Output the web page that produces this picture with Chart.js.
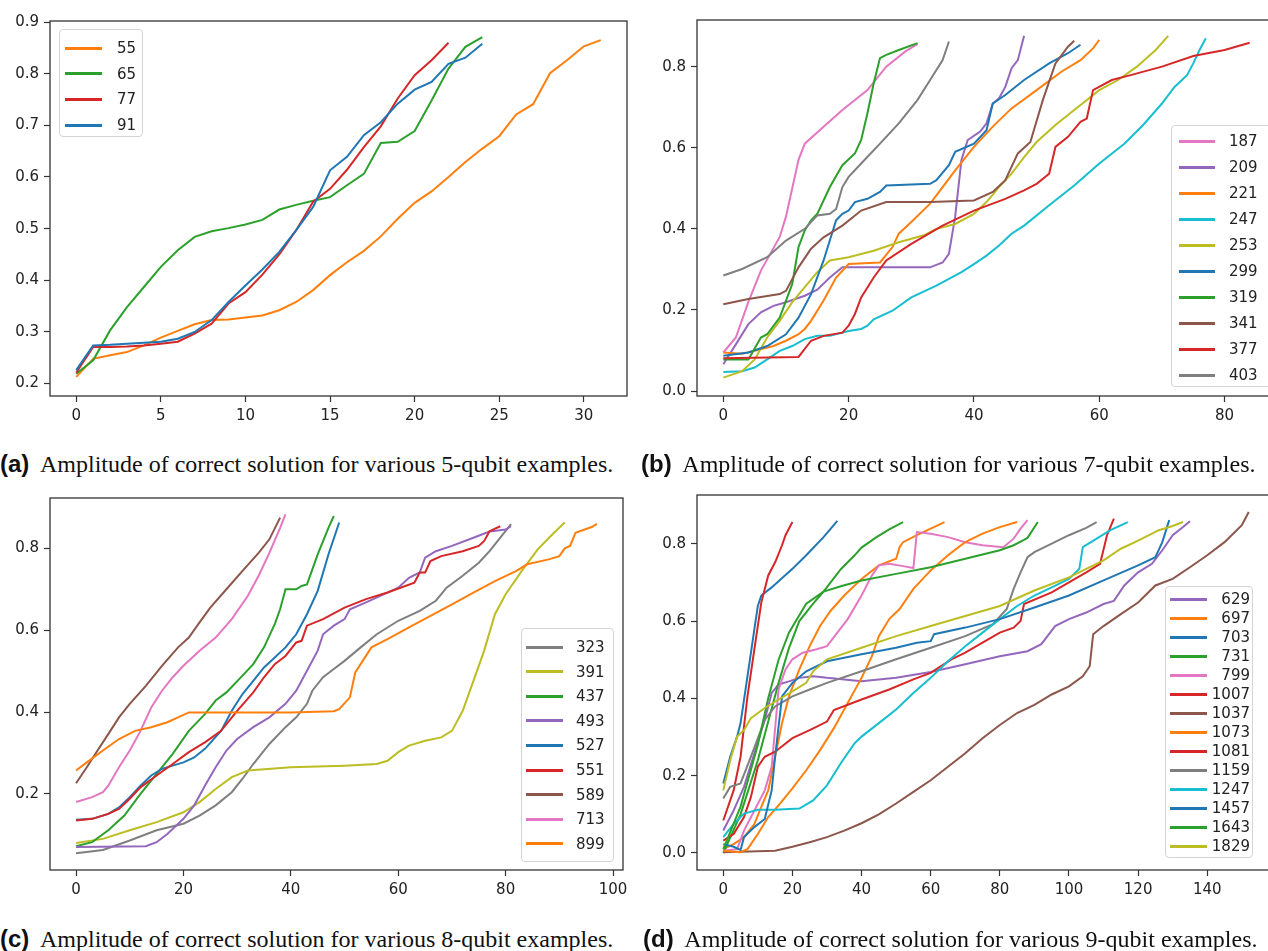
<!DOCTYPE html>
<html>
<head>
<meta charset="utf-8">
<script src="https://cdn.jsdelivr.net/npm/chart.js@4.4.1/dist/chart.umd.min.js"></script>
<style>
  html, body { margin: 0; padding: 0; background: #fff; overflow: hidden; }
  #page { position: relative; width: 1268px; height: 951px; overflow: hidden; background: #fff; }
  canvas { position: absolute; }
  .legend { position: absolute; background: rgba(255,255,255,0.8); border: 1px solid #d4d4d4; border-radius: 4px; box-sizing: border-box; z-index: 2; }
  .legend .h { position: absolute; height: 3px; }
  .legend .t { position: absolute; font: 15px "DejaVu Sans", sans-serif; color: #222; line-height: 20px; white-space: pre; }
  .cap { position: absolute; font: 24px "Liberation Serif", "Times New Roman", serif; color: #111; line-height: 24px; white-space: nowrap; }
  .cap b { font: bold 24px "Liberation Sans", Arial, sans-serif; margin-right: 6px; }
</style>
</head>
<body>
<div id="page">
  <canvas id="chartA" width="640" height="440" style="left:0;top:0"></canvas>
  <canvas id="chartB" width="660" height="440" style="left:634px;top:0"></canvas>
  <canvas id="chartC" width="640" height="440" style="left:0;top:480px"></canvas>
  <canvas id="chartD" width="660" height="440" style="left:634px;top:480px"></canvas>
  <div id="legA" class="legend"></div>
  <div id="legB" class="legend"></div>
  <div id="legC" class="legend"></div>
  <div id="legD" class="legend"></div>
  <div class="cap" style="left:0;top:450px"><b>(a)</b> Amplitude of correct solution for various 5-qubit examples.</div>
  <div class="cap" style="left:641px;top:450px"><b>(b)</b> Amplitude of correct solution for various 7-qubit examples.</div>
  <div class="cap" style="left:0;top:925px"><b>(c)</b> Amplitude of correct solution for various 8-qubit examples.</div>
  <div class="cap" style="left:643px;top:925px"><b>(d)</b> Amplitude of correct solution for various 9-qubit examples.</div>
</div>
<script>
// Colores de matplotlib (tab10)
const BLUE = '#1f77b4', ORANGE = '#ff7f0e', GREEN = '#2ca02c', RED = '#d62728', PURPLE = '#9467bd';
const BROWN = '#8c564b', PINK = '#e377c2', GRAY = '#7f7f7f', OLIVE = '#bcbd22', CYAN = '#17becf';

// ---------- (a) 5 qubits: un valor por iteración (x = 0, 1, 2, ...) ----------
const labelsA = ['55', '65', '77', '91'];
const colorsA = [ORANGE, GREEN, RED, BLUE];
const a55 = [0.213,0.248,0.255,0.261,0.274,0.289,0.302,0.315,0.323,0.324,0.328,0.332,0.342,0.358,0.381,0.41,0.435,0.457,0.485,0.519,0.55,0.572,0.6,0.629,0.655,0.679,0.721,0.741,0.801,0.826,0.853,0.865];
const a65 = [0.219,0.245,0.303,0.348,0.387,0.426,0.458,0.484,0.495,0.501,0.508,0.517,0.537,0.546,0.554,0.561,0.584,0.606,0.666,0.668,0.689,0.748,0.81,0.852,0.871];
const a77 = [0.221,0.271,0.271,0.272,0.274,0.277,0.281,0.297,0.316,0.355,0.377,0.411,0.45,0.497,0.552,0.577,0.614,0.658,0.698,0.752,0.797,0.826,0.86];
const a91 = [0.226,0.274,0.275,0.277,0.279,0.281,0.287,0.3,0.323,0.358,0.39,0.421,0.455,0.497,0.542,0.613,0.639,0.681,0.706,0.742,0.769,0.784,0.819,0.831,0.858];
const ticksXA = [0, 5, 10, 15, 20, 25, 30];
const ticksYA = [0.2, 0.3, 0.4, 0.5, 0.6, 0.7, 0.8, 0.9];

// ---------- (b) 7 qubits: pares [iteración, amplitud] ----------
const labelsB = ['187', '209', '221', '247', '253', '299', '319', '341', '377', '403'];
const colorsB = [PINK, PURPLE, ORANGE, CYAN, OLIVE, BLUE, GREEN, BROWN, RED, GRAY];
const b187 = [[0,0.095],[2,0.132],[4,0.22],[6,0.297],[9,0.38],[10,0.43],[11,0.5],[12,0.57],[13,0.61],[16,0.652],[19,0.693],[23,0.742],[26,0.8],[29,0.837],[31,0.856]];
const b209 = [[0,0.066],[2,0.115],[4,0.165],[6,0.194],[8,0.21],[10,0.219],[13,0.235],[15,0.25],[17,0.28],[19,0.305],[25,0.305],[33,0.305],[35,0.317],[36,0.338],[37,0.43],[38,0.57],[39,0.619],[41,0.64],[42,0.66],[43,0.709],[44,0.722],[45,0.75],[46,0.796],[47,0.816],[48,0.876]];
const b221 = [[0,0.095],[3,0.092],[5,0.099],[8,0.111],[10,0.124],[12,0.14],[13,0.153],[14,0.173],[16,0.223],[18,0.28],[20,0.313],[25,0.317],[27,0.355],[28,0.388],[30,0.417],[33,0.462],[35,0.503],[37,0.544],[40,0.602],[43,0.652],[46,0.697],[50,0.742],[54,0.788],[57,0.816],[59,0.845],[60,0.866]];
const b247 = [[0,0.047],[3,0.049],[5,0.058],[7,0.078],[9,0.099],[11,0.111],[13,0.128],[15,0.136],[17,0.136],[20,0.148],[22,0.153],[23,0.161],[24,0.177],[27,0.198],[30,0.231],[34,0.26],[38,0.293],[40,0.313],[42,0.334],[44,0.359],[46,0.388],[48,0.408],[52,0.458],[56,0.507],[60,0.561],[64,0.61],[67,0.656],[70,0.709],[72,0.75],[74,0.779],[75,0.808],[76,0.841],[77,0.87]];
const b253 = [[0,0.033],[3,0.049],[5,0.078],[7,0.132],[9,0.173],[11,0.219],[13,0.256],[15,0.293],[17,0.322],[20,0.33],[24,0.346],[28,0.367],[32,0.384],[34,0.4],[37,0.412],[40,0.437],[42,0.466],[44,0.503],[46,0.536],[48,0.577],[50,0.614],[53,0.656],[56,0.693],[60,0.742],[63,0.767],[66,0.8],[69,0.841],[71,0.876]];
const b299 = [[0,0.087],[4,0.095],[7,0.111],[10,0.14],[12,0.181],[14,0.239],[16,0.322],[18,0.421],[19,0.437],[20,0.445],[21,0.466],[23,0.474],[25,0.491],[26,0.507],[33,0.511],[34,0.52],[36,0.557],[37,0.59],[40,0.61],[42,0.643],[43,0.709],[45,0.73],[48,0.767],[52,0.808],[55,0.833],[57,0.854]];
const b319 = [[0,0.078],[4,0.078],[6,0.132],[7,0.14],[9,0.181],[11,0.264],[12,0.355],[13,0.396],[14,0.421],[15,0.437],[17,0.503],[19,0.557],[21,0.586],[22,0.619],[23,0.685],[24,0.759],[25,0.821],[26,0.829],[28,0.841],[31,0.858]];
const b341 = [[0,0.214],[4,0.227],[9,0.239],[10,0.247],[12,0.305],[14,0.351],[16,0.379],[19,0.408],[22,0.445],[26,0.466],[33,0.466],[40,0.47],[43,0.491],[45,0.52],[47,0.586],[49,0.614],[51,0.718],[53,0.808],[55,0.849],[56,0.864]];
const b377 = [[0,0.081],[12,0.084],[14,0.124],[16,0.136],[19,0.144],[20,0.161],[21,0.19],[22,0.231],[24,0.28],[26,0.322],[30,0.363],[35,0.408],[40,0.445],[45,0.474],[48,0.495],[50,0.511],[52,0.536],[53,0.602],[55,0.627],[57,0.664],[58,0.672],[59,0.742],[62,0.767],[65,0.779],[70,0.8],[75,0.826],[80,0.841],[84,0.859]];
const b403 = [[0,0.285],[3,0.301],[7,0.33],[10,0.371],[13,0.4],[15,0.433],[17,0.437],[18,0.449],[19,0.503],[20,0.528],[22,0.561],[25,0.61],[28,0.66],[31,0.718],[33,0.767],[35,0.816],[36,0.862]];
const ticksXB = [0, 20, 40, 60, 80];
const ticksYB = [0, 0.2, 0.4, 0.6, 0.8];

// ---------- (c) 8 qubits ----------
const labelsC = ['323', '391', '437', '493', '527', '551', '589', '713', '899'];
const colorsC = [GRAY, OLIVE, GREEN, PURPLE, BLUE, RED, BROWN, PINK, ORANGE];
const c323 = [[0,0.055],[5,0.063],[10,0.086],[15,0.111],[20,0.127],[23,0.147],[26,0.172],[29,0.204],[31,0.237],[33,0.273],[36,0.322],[39,0.363],[41,0.387],[43,0.42],[44,0.452],[46,0.485],[48,0.505],[50,0.525],[53,0.558],[56,0.59],[60,0.623],[64,0.647],[67,0.672],[69,0.704],[72,0.733],[75,0.765],[77,0.793],[79,0.826],[81,0.859]];
const c391 = [[0,0.08],[5,0.09],[10,0.111],[15,0.131],[20,0.155],[23,0.18],[26,0.212],[29,0.241],[32,0.257],[40,0.265],[50,0.269],[56,0.273],[58,0.281],[60,0.302],[62,0.318],[65,0.33],[68,0.338],[70,0.354],[72,0.403],[74,0.476],[76,0.55],[78,0.639],[80,0.688],[83,0.745],[86,0.798],[89,0.838],[91,0.863]];
const c437 = [[0,0.072],[3,0.082],[6,0.111],[9,0.147],[12,0.2],[15,0.249],[18,0.298],[21,0.354],[24,0.395],[26,0.428],[28,0.448],[31,0.489],[33,0.517],[35,0.558],[37,0.615],[38,0.651],[39,0.7],[41,0.7],[42,0.708],[43,0.712],[45,0.785],[47,0.85],[48,0.879]];
const c493 = [[0,0.07],[13,0.072],[15,0.082],[17,0.102],[20,0.139],[22,0.172],[24,0.22],[26,0.265],[28,0.306],[30,0.334],[33,0.363],[36,0.387],[39,0.42],[41,0.452],[43,0.501],[45,0.55],[46,0.59],[48,0.611],[50,0.627],[51,0.651],[54,0.668],[58,0.692],[60,0.704],[62,0.728],[64,0.741],[65,0.777],[67,0.793],[70,0.806],[74,0.826],[77,0.841],[80,0.846],[81,0.854]];
const c527 = [[0,0.137],[3,0.139],[6,0.151],[8,0.167],[10,0.192],[12,0.22],[14,0.245],[16,0.261],[18,0.269],[20,0.277],[22,0.289],[24,0.31],[27,0.354],[29,0.403],[31,0.444],[33,0.476],[35,0.509],[37,0.533],[39,0.558],[41,0.59],[43,0.639],[45,0.696],[47,0.785],[49,0.863]];
const c551 = [[0,0.135],[3,0.139],[6,0.151],[8,0.163],[10,0.188],[12,0.216],[15,0.245],[18,0.273],[21,0.302],[24,0.326],[27,0.354],[30,0.403],[33,0.448],[35,0.485],[37,0.517],[39,0.537],[41,0.57],[42,0.574],[43,0.611],[46,0.627],[50,0.655],[54,0.676],[58,0.692],[63,0.716],[64,0.741],[65,0.741],[66,0.769],[68,0.781],[72,0.793],[75,0.806],[76,0.818],[77,0.842],[79,0.854]];
const c589 = [[0,0.226],[2,0.265],[4,0.306],[6,0.346],[8,0.387],[10,0.42],[13,0.464],[16,0.513],[19,0.558],[21,0.582],[23,0.619],[25,0.655],[28,0.7],[31,0.745],[34,0.789],[36,0.822],[38,0.875]];
const c713 = [[0,0.18],[3,0.192],[5,0.204],[6,0.22],[8,0.265],[10,0.306],[12,0.354],[14,0.411],[16,0.452],[18,0.485],[20,0.513],[23,0.55],[26,0.582],[29,0.627],[32,0.684],[34,0.733],[36,0.789],[38,0.85],[39,0.883]];
const c899 = [[0,0.257],[2,0.277],[5,0.306],[8,0.334],[11,0.354],[14,0.363],[17,0.375],[19,0.387],[21,0.399],[30,0.399],[40,0.399],[48,0.402],[49,0.407],[51,0.436],[52,0.497],[55,0.558],[58,0.578],[62,0.607],[66,0.635],[70,0.663],[74,0.692],[78,0.72],[82,0.745],[84,0.761],[88,0.773],[90,0.781],[91,0.8],[92,0.806],[93,0.838],[96,0.852],[97,0.86]];
const ticksXC = [0, 20, 40, 60, 80, 100];
const ticksYC = [0.2, 0.4, 0.6, 0.8];

// ---------- (d) 9 qubits ----------
const labelsD = ['629', '697', '703', '731', '799', '1007', '1037', '1073', '1081', '1159', '1247', '1457', '1643', '1829'];
const colorsD = [PURPLE, ORANGE, BLUE, GREEN, PINK, RED, BROWN, ORANGE, RED, GRAY, CYAN, BLUE, GREEN, OLIVE];
const d629 = [[0,0.058],[3,0.11],[6,0.171],[9,0.258],[12,0.344],[14,0.414],[16,0.436],[19,0.444],[22,0.453],[26,0.457],[30,0.453],[35,0.449],[40,0.444],[50,0.453],[60,0.468],[70,0.488],[80,0.509],[88,0.522],[92,0.54],[96,0.587],[100,0.605],[105,0.622],[110,0.644],[113,0.652],[116,0.692],[120,0.726],[124,0.748],[127,0.783],[130,0.822],[133,0.843],[135,0.858]];
const d697 = [[0,0.01],[3,0.023],[6,0.041],[9,0.075],[11,0.119],[13,0.162],[15,0.249],[17,0.336],[19,0.405],[22,0.475],[25,0.535],[28,0.587],[31,0.626],[35,0.666],[40,0.709],[45,0.744],[50,0.761],[51,0.791],[52,0.804],[56,0.822],[60,0.839],[64,0.856]];
const d703 = [[0,0.18],[2,0.249],[4,0.301],[5,0.336],[7,0.457],[9,0.579],[10,0.639],[11,0.666],[14,0.687],[20,0.735],[24,0.77],[29,0.817],[33,0.859]];
const d731 = [[0,0],[5,0.1],[10,0.24],[13,0.34],[16,0.44],[19,0.53],[22,0.6],[26,0.645],[29,0.676],[34,0.734],[38,0.77],[40,0.79],[44,0.815],[48,0.837],[52,0.856]];
const d799 = [[0,0.006],[4,0.01],[6,0.058],[9,0.11],[12,0.162],[14,0.223],[16,0.423],[18,0.475],[20,0.501],[23,0.518],[27,0.527],[30,0.535],[33,0.57],[36,0.605],[40,0.666],[43,0.718],[45,0.744],[48,0.748],[52,0.742],[55,0.737],[56,0.83],[60,0.826],[65,0.817],[70,0.804],[75,0.796],[81,0.791],[84,0.813],[86,0.839],[88,0.861]];
const d1007 = [[0,0.084],[3,0.162],[5,0.249],[7,0.405],[9,0.527],[11,0.648],[12,0.683],[13,0.718],[15,0.752],[17,0.796],[18,0.822],[20,0.856]];
const d1037 = [[0,0.002],[15,0.006],[20,0.016],[25,0.028],[30,0.041],[35,0.058],[40,0.077],[45,0.1],[50,0.128],[55,0.158],[60,0.188],[65,0.223],[70,0.258],[75,0.297],[80,0.331],[85,0.362],[90,0.383],[95,0.41],[100,0.431],[104,0.457],[106,0.483],[107,0.566],[110,0.587],[115,0.618],[120,0.648],[125,0.692],[130,0.709],[135,0.739],[140,0.77],[145,0.804],[150,0.848],[152,0.882]];
const d1073 = [[0,0.006],[5,0.002],[7,0.01],[10,0.049],[13,0.093],[16,0.123],[20,0.167],[24,0.214],[28,0.266],[32,0.323],[36,0.388],[40,0.453],[43,0.509],[45,0.561],[48,0.605],[51,0.631],[55,0.683],[60,0.731],[65,0.77],[70,0.804],[75,0.826],[80,0.843],[85,0.856]];
const d1081 = [[0,0.032],[3,0.049],[6,0.093],[8,0.145],[10,0.223],[12,0.249],[15,0.262],[20,0.297],[25,0.318],[30,0.34],[32,0.37],[40,0.397],[48,0.423],[55,0.449],[60,0.466],[66,0.501],[70,0.518],[75,0.544],[80,0.57],[84,0.583],[86,0.6],[87,0.644],[95,0.674],[100,0.7],[105,0.726],[109,0.748],[111,0.822],[113,0.865]];
const d1159 = [[0,0.141],[2,0.171],[5,0.18],[8,0.249],[12,0.344],[15,0.379],[20,0.405],[25,0.423],[30,0.44],[40,0.47],[50,0.501],[60,0.531],[70,0.561],[78,0.592],[82,0.631],[84,0.683],[86,0.726],[88,0.765],[90,0.778],[95,0.8],[100,0.822],[105,0.841],[108,0.856]];
const d1247 = [[0,0.041],[3,0.075],[6,0.102],[10,0.112],[15,0.112],[22,0.115],[26,0.136],[30,0.175],[34,0.232],[38,0.284],[40,0.301],[45,0.336],[50,0.371],[55,0.414],[60,0.453],[65,0.496],[70,0.535],[75,0.57],[80,0.605],[85,0.639],[90,0.666],[95,0.687],[100,0.709],[103,0.735],[104,0.791],[108,0.813],[112,0.835],[117,0.856]];
const d1457 = [[0,0.023],[3,0.016],[5,0.008],[6,0.041],[9,0.067],[12,0.088],[14,0.162],[15,0.249],[17,0.405],[20,0.44],[24,0.47],[30,0.496],[40,0.514],[50,0.531],[56,0.544],[60,0.548],[61,0.566],[70,0.583],[80,0.605],[90,0.635],[100,0.666],[110,0.705],[120,0.744],[125,0.765],[127,0.804],[129,0.861]];
const d1643 = [[0,0.01],[5,0.12],[10,0.28],[13,0.4],[16,0.5],[19,0.57],[21,0.6],[24,0.645],[29,0.676],[34,0.69],[40,0.705],[50,0.722],[60,0.739],[70,0.761],[80,0.783],[84,0.796],[87,0.81],[88,0.815],[91,0.856]];
const d1829 = [[0,0.162],[2,0.24],[4,0.301],[6,0.318],[8,0.349],[12,0.375],[16,0.397],[20,0.418],[24,0.44],[26,0.47],[30,0.501],[40,0.531],[50,0.561],[60,0.587],[70,0.613],[80,0.639],[90,0.679],[100,0.713],[110,0.757],[115,0.787],[120,0.808],[126,0.835],[130,0.846],[133,0.856]];
const ticksXD = [0, 20, 40, 60, 80, 100, 120, 140];
const ticksYD = [0, 0.2, 0.4, 0.6, 0.8];

const TICK_FONT = { family: 'DejaVu Sans', size: 15 };

// marco completo alrededor del área del gráfico (como los spines de matplotlib)
const framePlugin = {
  id: 'frame',
  afterDraw(chart) {
    const { ctx, chartArea: a } = chart;
    ctx.save();
    ctx.strokeStyle = '#333';
    ctx.lineWidth = 1.3;
    ctx.strokeRect(a.left, a.top, a.right - a.left, a.bottom - a.top);
    ctx.restore();
  }
};

function toPoints(series) {
  if (typeof series[0] === 'number') return series.map((y, i) => ({ x: i, y }));
  return series.map(p => ({ x: p[0], y: p[1] }));
}

function axis(ticks, min, max, fmt, fit) {
  return {
    type: 'linear', min, max,
    afterBuildTicks: s => { s.ticks = ticks.map(v => ({ value: v })); },
    afterFit: fit,
    border: { display: false },
    grid: { drawOnChartArea: false, drawTicks: true, tickLength: 6, tickWidth: 1.2, color: '#333' },
    ticks: { font: TICK_FONT, color: '#222', padding: 5, autoSkip: false, maxRotation: 0, callback: fmt }
  };
}

function makeChart(id, labels, colors, series, xr, yr, xt, yt, lay) {
  const datasets = series.map((s, i) => ({
    label: labels[i],
    data: toPoints(s),
    borderColor: colors[i],
    borderWidth: 2,
    pointRadius: 0,
    fill: false,
    tension: 0,
    order: series.length - i
  }));
  return new Chart(document.getElementById(id), {
    type: 'line',
    data: { datasets },
    options: {
      responsive: false,
      animation: false,
      events: [],
      layout: { padding: { left: 0, top: lay.top, right: lay.right, bottom: 0 } },
      plugins: { legend: { display: false }, tooltip: { enabled: false } },
      scales: {
        x: axis(xt, xr[0], xr[1], v => String(v), s => { s.height = lay.xh; }),
        y: axis(yt, yr[0], yr[1], v => v.toFixed(1), s => { s.width = lay.yw; })
      }
    },
    plugins: [framePlugin]
  });
}

// leyenda en HTML, dentro del área del gráfico
function makeLegend(id, labels, colors, box) {
  const el = document.getElementById(id);
  el.style.left = box.left + 'px';
  el.style.top = box.top + 'px';
  el.style.width = box.width + 'px';
  el.style.height = box.height + 'px';
  labels.forEach((lab, i) => {
    const y = box.row0 + i * box.step;
    const h = document.createElement('div');
    h.className = 'h';
    h.style.background = colors[i];
    h.style.left = box.hl + 'px';
    h.style.width = box.hw + 'px';
    h.style.top = (y - 1.5) + 'px';
    el.appendChild(h);
    const t = document.createElement('div');
    t.className = 't';
    t.textContent = lab;
    t.style.top = (y - 10) + 'px';
    if (box.right != null) { t.style.right = box.right + 'px'; } else { t.style.left = box.tl + 'px'; }
    el.appendChild(t);
  });
}

makeChart('chartA', labelsA, colorsA, [a55, a65, a77, a91], [-1.55, 32.55], [0.176, 0.902], ticksXA, ticksYA,
  { top: 21, right: 13, xh: 44, yw: 50 });
makeChart('chartB', labelsB, colorsB, [b187, b209, b221, b247, b253, b299, b319, b341, b377, b403], [-4.2, 88.2], [-0.0123, 0.915], ticksXB, ticksYB,
  { top: 20, right: 18, xh: 44, yw: 63 });
makeChart('chartC', labelsC, colorsC, [c323, c391, c437, c493, c527, c551, c589, c713, c899], [-4.85, 101.85], [0.014, 0.923], ticksXC, ticksYC,
  { top: 18, right: 17, xh: 50, yw: 50 });
makeChart('chartD', labelsD, colorsD, [d629, d697, d703, d731, d799, d1007, d1037, d1073, d1081, d1159, d1247, d1457, d1643, d1829], [-7.6, 159.6], [-0.044, 0.926], ticksXD, ticksYD,
  { top: 15, right: 19, xh: 50, yw: 63 });

makeLegend('legA', labelsA, colorsA, { left: 59, top: 29, width: 84, height: 108, row0: 18, step: 25.7, hl: 5, hw: 37, tl: 57 });
makeLegend('legB', labelsB, colorsB, { left: 1171, top: 125, width: 115, height: 262, row0: 15, step: 26, hl: 7, hw: 36, tl: 57 });
makeLegend('legC', labelsC, colorsC, { left: 521, top: 628, width: 93, height: 234, row0: 18, step: 24.6, hl: 4, hw: 37, tl: 54 });
makeLegend('legD', labelsD, colorsD, { left: 1165, top: 586, width: 88, height: 272, row0: 12, step: 19, hl: 4, hw: 37, right: 2 });
</script>
</body>
</html>
